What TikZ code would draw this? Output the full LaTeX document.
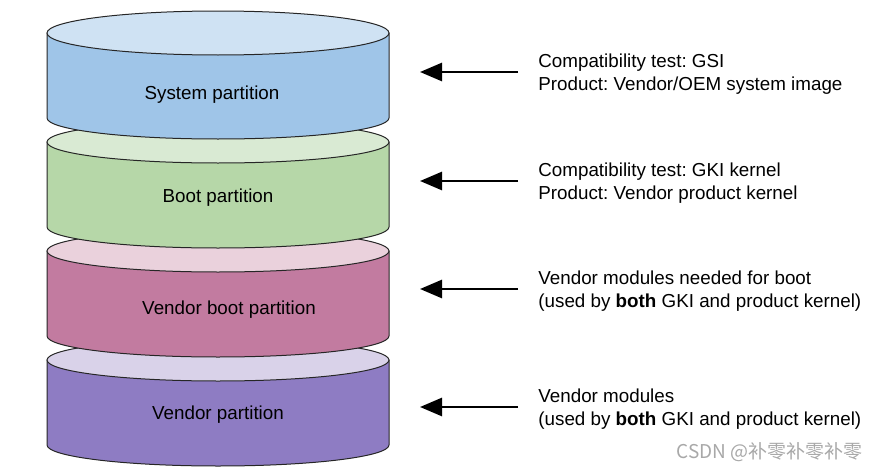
\documentclass[tikz,border=0pt]{standalone}
\usepackage{fontspec}
\setmainfont{Liberation Sans}
\newfontfamily\cjkfont{Noto Sans CJK SC}
\usepackage{tikz}
\usetikzlibrary{arrows.meta}
\frenchspacing

\definecolor{sysbody}{HTML}{9FC5E8}
\definecolor{systop}{HTML}{CFE2F3}
\definecolor{bootbody}{HTML}{B6D7A8}
\definecolor{boottop}{HTML}{D9EAD3}
\definecolor{vbbody}{HTML}{C27BA0}
\definecolor{vbtop}{HTML}{EAD1DC}
\definecolor{vbody}{HTML}{8E7CC3}
\definecolor{vtop}{HTML}{D9D2E9}
\definecolor{wmgray}{HTML}{A8A8A8}

\tikzset{
  cylbody/.style={fill=#1, draw=black!85, line width=0.5pt},
  cyltop/.style={fill=#1, draw=black!85, line width=0.5pt},
  lbl/.style={inner sep=0pt, font=\fontsize{9.4}{11.5}\selectfont},
  info/.style={anchor=west, inner sep=0pt, align=left, font=\fontsize{9.4}{11.5}\selectfont},
  arr/.style={-{Triangle[length=11pt,width=9pt]}, line width=1.35pt, shorten <=10pt}
}

\begin{document}
\begin{tikzpicture}[x=0.5pt, y=-0.5pt]
\path[use as bounding box] (0,0) rectangle (879,471);

% cylinders, bottom one first
\filldraw[cylbody=vbody] (47,360) -- (47,445) arc[start angle=180, end angle=0, x radius=171, y radius=21] -- (389,360) -- cycle;
\filldraw[cyltop=vtop] (218,360) ellipse [x radius=171, y radius=21];

\filldraw[cylbody=vbbody] (47,251) -- (47,336) arc[start angle=180, end angle=0, x radius=171, y radius=21] -- (389,251) -- cycle;
\filldraw[cyltop=vbtop] (218,251) ellipse [x radius=171, y radius=21];

\filldraw[cylbody=bootbody] (47,142) -- (47,227) arc[start angle=180, end angle=0, x radius=171, y radius=21] -- (389,142) -- cycle;
\filldraw[cyltop=boottop] (218,142) ellipse [x radius=171, y radius=21];

\filldraw[cylbody=sysbody] (47,33) -- (47,118) arc[start angle=180, end angle=0, x radius=171, y radius=21] -- (389,33) -- cycle;
\filldraw[cyltop=systop] (218,33) ellipse [x radius=171, y radius=22];

\node[lbl] (syslbl) at (212,95) {System partition};
\node[lbl] (bootlbl) at (218,198) {Boot partition};
\node[lbl] (vblbl) at (229,310) {Vendor boot partition};
\node[lbl] (vlbl) at (218,415) {Vendor partition};

% descriptions
\node[info] (sysinfo) at (538,74) {Compatibility test: GSI\\Product: Vendor/OEM system image};
\node[info] (bootinfo) at (538,183) {Compatibility test: GKI kernel\\Product: Vendor product kernel};
\node[info] (vbinfo) at (538,291) {Vendor modules needed for boot\\(used by \textbf{both} GKI and product kernel)};
\node[info] (vinfo) at (538,409) {Vendor modules\\(used by \textbf{both} GKI and product kernel)};

\coordinate (systip) at (420,72);
\coordinate (boottip) at (420,181);
\coordinate (vbtip) at (420,289);
\coordinate (vtip) at (420,407);

\foreach \from/\to in {sysinfo/systip, bootinfo/boottip, vbinfo/vbtip, vinfo/vtip}
	\draw[arr] (\from.west |- \to) -- (\to);

\node[anchor=east, inner sep=0pt, text=wmgray, font=\cjkfont\fontsize{9.5}{11}\selectfont] (wm) at (863,452) {CSDN @补零补零补零};

\end{tikzpicture}
\end{document}
